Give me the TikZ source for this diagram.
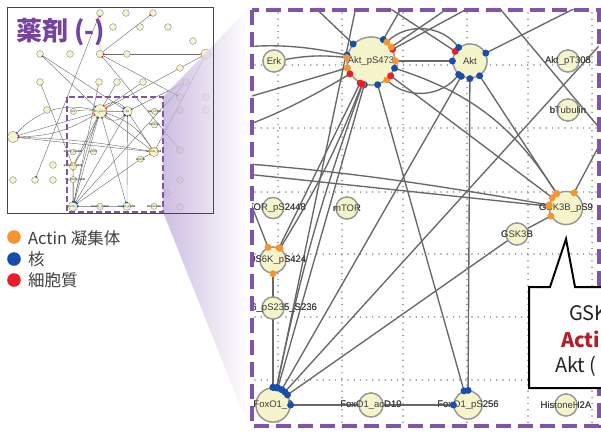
\documentclass[tikz,border=0pt]{standalone}
\usepackage{fontspec}
\setmainfont{Liberation Sans}
\newfontfamily\cjk{Noto Sans CJK JP}
\definecolor{pur}{RGB}{118,68,160}
\definecolor{dashpur}{RGB}{128,84,168}
\definecolor{nfill}{RGB}{246,244,202}
\definecolor{nbord}{RGB}{150,150,150}
\definecolor{ecol}{RGB}{104,104,104}
\definecolor{dotO}{RGB}{245,148,48}
\definecolor{dotB}{RGB}{22,78,170}
\definecolor{dotR}{RGB}{232,30,40}
\definecolor{lbl}{RGB}{60,60,60}
\definecolor{gridc}{RGB}{135,135,135}
\definecolor{redtxt}{RGB}{180,30,40}
\definecolor{lgt}{RGB}{64,64,64}
\definecolor{wedgec}{RGB}{190,168,216}
\tikzset{
  nd/.style={circle,fill=nfill,draw=nbord,line width=1.3pt,inner sep=0pt},
  lab/.style={font=\fontsize{9.5}{11}\selectfont,text=lbl,inner sep=0pt},
  dt/.style={circle,inner sep=0pt,minimum size=7pt,draw=none},
  gridl/.style={draw=gridc,line width=1.7pt,dash pattern=on 0pt off 6.2pt,line cap=round},
  txt/.style={inner sep=0pt,anchor=base west}
}
\newcommand\nn[5][]{\node[nd,minimum size=#4pt,label={[lab,#1]center:#5}] (#2) at (#3) {};}
\newcommand\on[3]{\node[nd,minimum size=#3pt] (#1) at (#2) {};}
\newcommand\ed[5][]{\path[E] (#2) to[#1] node[pos=0,D#4]{} node[pos=1,D#5]{} (#3);}
\newcommand\passA[1]{\tikzset{E/.style={draw=ecol,line width=#1},Dn/.style={},DO/.style={},DB/.style={},DR/.style={}}}
\newcommand\passB{\tikzset{E/.style={},Dn/.style={},DO/.style={dt,fill=dotO},DB/.style={dt,fill=dotB},DR/.style={dt,fill=dotR}}}
\newcommand\netnodes{%
 \nn{Erk}{274,61}{22}{Erk}
 \nn{A}{371,61}{48}{Akt\_pS473}
 \nn{Akt}{470,61}{34}{Akt}
 \nn{AktT}{568,61}{22}{Akt\_pT308}
 \nn{bTub}{568,110}{22}{bTubulin}
 \nn{GSKnine}{566,208}{33}{GSK3B\_pS9}
 \nn{GSKb}{517,234}{22}{GSK3B}
 \nn{mTORp}{273,208}{21}{mTOR\_pS2448}
 \nn{mTOR}{347,208}{22}{mTOR}
 \nn{SsixK}{273,260}{26}{p70S6K\_pS424}
 \nn[xshift=8pt]{Ssix}{273,308}{22}{S6\_pS235\_S236}
 \nn{Fox}{273,405}{34}{FoxO1\_2}
 \nn{Foxac}{371,405}{24}{FoxO1\_acD19}
 \nn{Foxp}{468,405}{28}{FoxO1\_pS256}
 \nn{HH}{566,405}{22}{HistoneH2A}
 \on{o1}{370.5,-295.1}{24}
 \on{o2}{464.6,-295.1}{24}
 \on{o3}{562.3,-295.1}{24}
 \on{o4}{417.5,-244.4}{24}
 \on{o5}{515.3,-244.4}{24}
 \on{o6}{616.6,-244.4}{24}
 \on{o7}{707.1,-193.7}{24}
 \on{o8}{153.3,-146.7}{24}
 \on{o9}{261.9,-146.7}{24}
 \on{o10}{370.5,-146.7}{26}
 \on{o11}{468.2,-146.7}{24}
 \on{o12}{754.2,-146.7}{36}
 \on{o13}{660.1,-96}{24}
 \on{o14}{153.3,-45.3}{24}
 \on{o15}{366.8,-45.3}{24}
 \on{o16}{432,-45.3}{24}
 \on{o17}{526.1,-45.3}{24}
 \on{o18}{681.8,-45.3}{24}
 \on{o19}{660.1,9}{24}
 \on{o20}{754.2,9}{24}
 \on{o21}{178.6,56.1}{24}
 \on{o22}{660.1,56.1}{24}
 \on{o23}{754.2,56.1}{24}
 \on{o24}{55.5,153.8}{40}
 \on{o25}{660.1,200.9}{24}
 \on{o26}{660.1,309.5}{24}
 \on{o27}{55.5,309.5}{24}
 \on{o28}{135.2,309.5}{24}
 \on{o29}{200.3,309.5}{24}
 \on{o30}{200.3,255.2}{24}
 \on{o31}{613,356.5}{24}
 \on{o32}{660.1,407.2}{24}
}
\newcommand\netedges{%
 \ed{o10}{o12}{R}{O}
 \ed{o10}{o3}{n}{R}
 \ed{o10}{o1}{n}{R}
 \ed{o1}{o28}{n}{B}
 \ed{o10}{o25}{R}{O}
 \ed{o10}{o19}{n}{B}
 \ed{o12}{A}{O}{R}
 \ed{o12}{GSKnine}{O}{O}
 \ed{o14}{SsixK}{O}{O}
 \ed{o18}{Akt}{n}{B}
 \ed{o18}{Fox}{n}{B}
 \ed{o8}{A}{B}{B}
 \ed{o8}{Akt}{n}{R}
 \ed{o15}{Fox}{O}{B}
 \ed{o16}{A}{n}{B}
 \ed{o17}{A}{n}{O}
 \ed[bend left=30]{o24}{A}{B}{B}
 \ed{o24}{A}{R}{O}
 \ed[bend right=15]{o24}{A}{R}{R}
 \ed[bend left=4]{o24}{GSKnine}{B}{O}
 \ed{o24}{GSKnine}{R}{O}
 \ed[bend left=8]{Erk}{A}{n}{O}
 \ed{A}{Akt}{O}{B}
 \ed[bend left=50]{A}{Akt}{O}{B}
 \ed[bend right=50]{A}{Akt}{O}{B}
 \ed[bend left=20]{A}{GSKnine}{B}{O}
 \ed{A}{GSKnine}{R}{O}
 \ed{A}{Foxp}{B}{B}
 \ed{A}{Fox}{B}{B}
 \ed[bend right=4]{A}{Fox}{O}{B}
 \ed{A}{SsixK}{R}{O}
 \ed[bend left=5]{A}{SsixK}{R}{O}
 \ed{Akt}{Foxp}{B}{B}
 \ed{Akt}{Fox}{B}{B}
 \ed{Akt}{GSKnine}{B}{O}
 \ed{GSKb}{GSKnine}{n}{O}
 \ed{Fox}{GSKb}{B}{n}
 \ed{Fox}{Foxp}{B}{B}
 \ed{Ssix}{Fox}{n}{B}
 \ed{SsixK}{Fox}{O}{B}
}
\begin{document}
\begin{tikzpicture}[x=1pt,y=-1pt]
\useasboundingbox (0,0) rectangle (601,432);
\fill[white] (0,0) rectangle (601,432);
% thumbnail
\begin{scope}
  \clip (7,7) rectangle (213,213);
  \fill[white] (7,7) rectangle (213,213);
  \begin{scope}[shift={(-2.34,94.51)},scale=0.2762,transform shape]
    \tikzset{nd/.append style={line width=0.35pt}}
    \passA{0.4pt}
    \netnodes \netedges \netnodes \passB \netedges
  \end{scope}
\end{scope}
\node[txt,text=pur,font=\cjk\bfseries\fontsize{26}{28}\selectfont] (title) at (16,40) {薬剤 (-)};
% zoom wedge
\shade[left color=wedgec,right color=white,fill opacity=0.75] (163,97) -- (249,8) -- (249,428) -- (163,212) -- cycle;
\draw[line width=1pt,draw={rgb,255:red,70;green,70;blue,70}] (7,7) rectangle (213,213);
\draw[draw=dashpur,line width=2.3pt,dash pattern=on 6pt off 3pt] (67,97) rectangle (163,212);
% main view
\begin{scope}
  \clip (252,9.5) rectangle (598.5,425.5);
  \fill[white] (252,9.5) rectangle (598.5,425.5);
  \foreach \x in {278,342,403,467,528,592} \draw[gridl] (\x,13) -- (\x,423);
  \foreach \y in {65,128,192,254,317,380} \draw[gridl] (255,\y) -- (596,\y);
  \passA{1.35pt}
  \netnodes \netedges \netnodes \passB \netedges
\end{scope}
\draw[draw=dashpur,line width=4pt,dash pattern=on 15pt off 7pt] (252,9.5) rectangle (598.5,425.5);
% callout
\draw[line width=2pt,fill=white,line join=miter] (529,388) -- (529,287) -- (550,287) -- (566,239) -- (575,287) -- (615,287) -- (615,388) -- cycle;
\node[txt,font=\cjk\fontsize{20}{22}\selectfont,text={rgb,255:red,35;green,35;blue,35}] (c1) at (569,320) {GSK};
\node[txt,font=\cjk\bfseries\fontsize{20}{22}\selectfont,text=redtxt] (c2) at (561,347) {Actin};
\node[txt,font=\cjk\fontsize{20}{22}\selectfont,text={rgb,255:red,35;green,35;blue,35}] (c3) at (555,372) {Akt (};
% legend
\node[circle,fill=dotO,minimum size=13.6pt,inner sep=0pt] (lg1) at (14,237) {};
\node[circle,fill=dotB,minimum size=13.6pt,inner sep=0pt] (lg2) at (14,259) {};
\node[circle,fill=dotR,minimum size=13.6pt,inner sep=0pt] (lg3) at (14,280) {};
\node[txt,font=\cjk\fontsize{16.5}{18}\selectfont,text=lgt] (lt1) at (28,244) {Actin 凝集体};
\node[txt,font=\cjk\fontsize{16.5}{18}\selectfont,text=lgt] (lt2) at (28,265) {核};
\node[txt,font=\cjk\fontsize{16.5}{18}\selectfont,text=lgt] (lt3) at (28,286) {細胞質};
\end{tikzpicture}
\end{document}
